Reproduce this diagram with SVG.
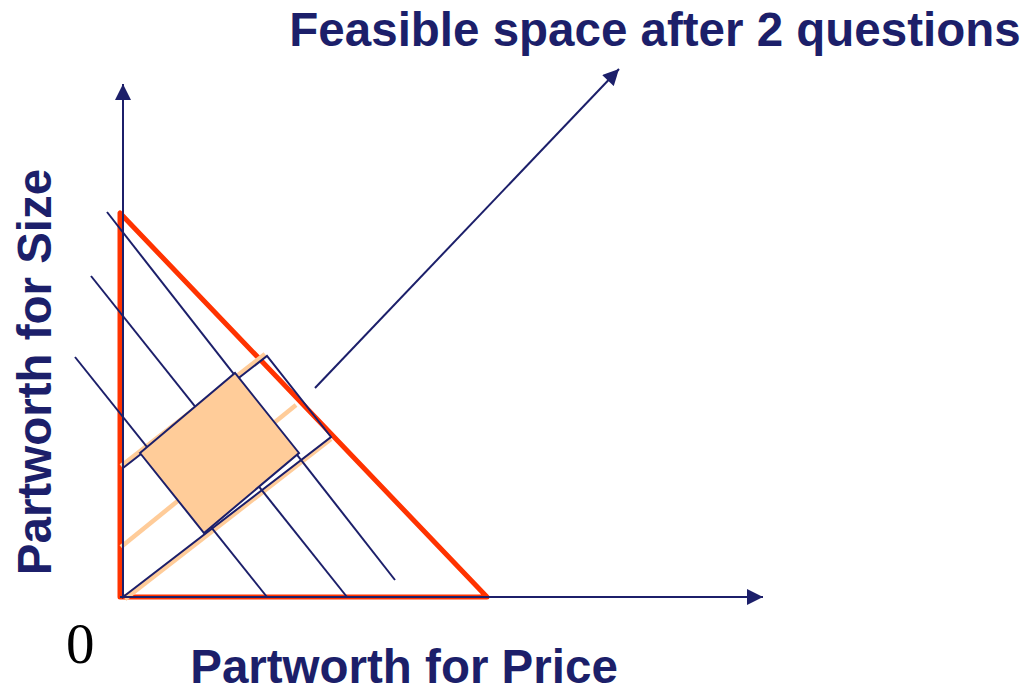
<svg xmlns="http://www.w3.org/2000/svg" width="1028" height="690" viewBox="0 0 1028 690">
  <style>
    .navy { stroke: #1c1f6a; stroke-width: 2; fill: none; }
    .peach { stroke: #ffcc99; stroke-width: 4.5; fill: none; }
    .label { font-family: "Liberation Sans", Arial, sans-serif; font-weight: bold; font-size: 47.5px; fill: #1c1f6a; }
    .zero { font-family: "Liberation Serif", "Times New Roman", serif; font-size: 57px; fill: #000; }
  </style>
  <defs>
    <marker id="arrow" viewBox="0 0 10 10" refX="10" refY="5" markerUnits="userSpaceOnUse" markerWidth="17" markerHeight="16" orient="auto">
      <path d="M0,0 L10,5 L0,10 z" fill="#1c1f6a"/>
    </marker>
  </defs>
  <rect width="1028" height="690" fill="#ffffff"/>

  <g id="feasible-triangle">
    <polygon points="120,213 120,597 487,597" fill="none" stroke="#ff3300" stroke-width="5" stroke-linejoin="round"/>
  </g>

  <g id="peach-cuts">
    <line class="peach" x1="121" y1="466" x2="265" y2="354"/>
    <line class="peach" x1="125" y1="599" x2="331" y2="439"/>
    <line class="peach" x1="121" y1="547" x2="296" y2="405"/>
  </g>

  <g id="iso-lines">
    <line class="navy" x1="107" y1="212" x2="395" y2="580"/>
    <line class="navy" x1="91" y1="276" x2="347" y2="597"/>
    <line class="navy" x1="75" y1="357" x2="267" y2="597"/>
  </g>

  <g id="feasible-region-2">
    <polygon class="navy" points="123,468 267,356 331,437 123,597" stroke-linejoin="miter"/>
  </g>

  <g id="feasible-square">
    <polygon points="140,453 235,373 299,453 204,533" fill="#ffcc99" stroke="#1c1f6a" stroke-width="2"/>
  </g>

  <g id="connectors">
    <line class="navy" x1="123" y1="597" x2="123" y2="84" marker-end="url(#arrow)"/>
    <line class="navy" x1="120" y1="597" x2="763" y2="597" marker-end="url(#arrow)"/>
    <line class="navy" x1="315" y1="388" x2="619" y2="69" marker-end="url(#arrow)"/>
  </g>

  <g id="title">
    <text class="label" x="655" y="46" text-anchor="middle">Feasible space after 2 questions</text>
  </g>
  <g id="x-label">
    <text class="label" x="404" y="683" text-anchor="middle">Partworth for Price</text>
  </g>
  <g id="y-label">
    <text class="label" transform="translate(51,372) rotate(-90)" text-anchor="middle">Partworth for Size</text>
  </g>
  <g id="origin-label">
    <text class="zero" x="66" y="663">0</text>
  </g>
</svg>
